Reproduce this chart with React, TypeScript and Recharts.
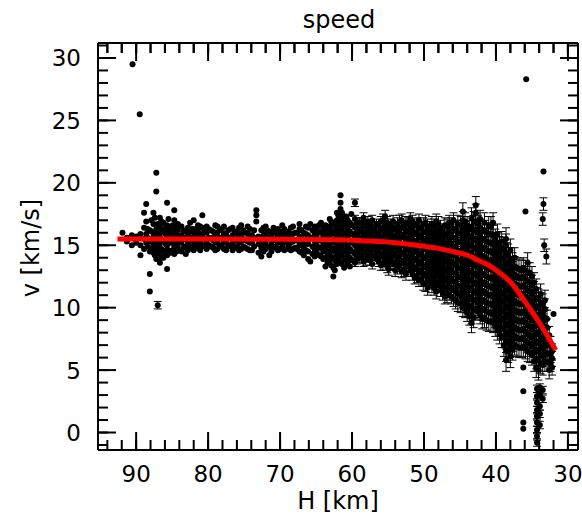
import { ComposedChart, Scatter, Line, XAxis, YAxis, ErrorBar } from 'recharts'

const FONT = '"DejaVu Sans", sans-serif'

// axis ticks: labelled majors, unlabelled minors
const xMajor = [30, 40, 50, 60, 70, 80, 90]
const xMinor = [30, 32, 34, 36, 38, 40, 42, 44, 46, 48, 50, 52, 54, 56, 58, 60, 62, 64, 66, 68, 70, 72, 74, 76, 78, 80, 82, 84, 86, 88, 90, 92, 94]
const yMajor = [0, 5, 10, 15, 20, 25, 30]
const yMinor = [-1, 0, 1, 2, 3, 4, 5, 6, 7, 8, 9, 10, 11, 12, 13, 14, 15, 16, 17, 18, 19, 20, 21, 22, 23, 24, 25, 26, 27, 28, 29, 30, 31]

// flat part of the track, H [km] -> speeds [km/s] (no error bars)
const bandCols: [number, number[]][] = [
  [91.9, [16.0]],
  [91.3, [15.3, 15.6]],
  [90.6, [15.0, 15.8]],
  [90.0, [15.2, 15.7]],
  [89.4, [14.2, 15.0, 15.9]],
  [88.9, [14.7, 15.5, 16.4, 17.6]],
  [88.6, [15.2, 15.9, 16.9, 18.3]],
  [88.1, [11.3, 12.7, 14.5, 15.3, 16.2]],
  [87.6, [14.4, 15.0, 15.7, 16.7, 17.6]],
  [87.2, [13.9, 14.8, 15.6, 16.3, 19.3, 20.8]],
  [86.7, [13.6, 14.3, 15.1, 15.9, 16.5, 17.2]],
  [86.2, [14.0, 14.6, 15.4, 16.1, 16.8]],
  [85.7, [13.1, 14.2, 15.0, 15.8, 16.6, 18.4]],
  [85.2, [14.4, 15.2, 15.9, 16.5]],
  [84.7, [14.3, 14.9, 15.6, 16.3, 17.0, 17.8]],
  [84.2, [14.8, 15.5, 16.2, 16.7]],
  [83.7, [14.5, 15.2, 15.8, 16.5]],
  [83.1, [14.3, 14.9, 15.6, 16.2]],
  [82.5, [14.9, 15.5, 16.1, 16.8]],
  [82.0, [14.6, 15.3, 16.0, 17.0]],
  [81.4, [14.8, 15.4, 16.1, 16.6]],
  [80.8, [15.0, 15.7, 16.4, 17.4]],
  [80.2, [14.7, 15.3, 16.0, 16.5]],
  [79.6, [14.9, 15.6, 16.2]],
  [79.0, [14.6, 15.2, 15.9, 16.6]],
  [78.4, [15.0, 15.6, 16.3]],
  [77.8, [14.7, 15.3, 15.9, 16.5]],
  [77.2, [14.9, 15.6, 16.2]],
  [76.6, [14.6, 15.2, 15.8, 16.4]],
  [76.0, [14.9, 15.5, 16.1]],
  [75.4, [14.7, 15.3, 15.9, 16.6]],
  [74.8, [14.8, 15.4, 16.0]],
  [74.2, [14.6, 15.2, 15.8, 16.3]],
  [73.6, [14.9, 15.6, 16.2]],
  [73.3, [16.9, 17.4, 17.8]],
  [73.0, [14.4, 15.1, 15.7]],
  [72.6, [14.1, 14.8, 15.5, 16.2]],
  [72.0, [14.7, 15.3, 15.9, 16.5]],
  [71.5, [14.2, 14.9, 15.6, 16.1]],
  [70.9, [14.8, 15.4, 16.0, 16.4]],
  [70.3, [14.6, 15.2, 15.8, 16.3]],
  [69.7, [14.9, 15.5, 16.1, 16.6]],
  [69.1, [14.7, 15.3, 15.9]],
  [68.5, [14.6, 15.2, 15.8, 16.4]],
  [67.9, [14.8, 15.4, 16.0]],
  [67.3, [14.5, 15.1, 15.7, 16.3, 16.7]],
  [66.7, [14.2, 14.8, 15.4, 16.0]],
  [66.1, [13.9, 14.5, 15.1, 15.8, 16.4]],
  [65.8, [13.7, 16.7]],
  [65.5, [14.3, 14.9, 15.6, 16.2]],
  [64.9, [14.4, 15.0, 15.6, 16.3]],
  [64.3, [14.1, 14.8, 15.4, 16.1, 16.8]],
  [63.7, [13.3, 14.0, 14.7, 15.3, 16.0, 16.6]],
  [63.1, [13.8, 14.5, 15.2, 15.9, 16.5, 17.1]],
  [62.6, [12.5, 13.2, 14.0, 14.7, 15.4, 16.1, 16.8]],
  [62.1, [13.5, 14.2, 14.9, 15.6, 16.3, 17.0, 17.6]],
  [61.6, [13.6, 14.3, 15.0, 15.7, 16.4, 17.1, 17.9, 18.4, 19.0]],
  [61.1, [13.2, 13.9, 14.6, 15.3, 16.0, 16.7, 17.3]],
  [60.6, [13.5, 14.2, 14.9, 15.6, 16.3, 17.0]],
  [60.1, [13.8, 14.5, 15.2, 15.9, 16.6, 17.5]],
  // in-between columns
  [88.4, [14.9, 15.6, 16.3]],
  [87.9, [14.7, 15.4, 16.1, 17.0]],
  [87.4, [14.2, 15.2, 16.0, 17.2]],
  [87.0, [14.5, 15.3, 16.0, 16.7]],
  [86.5, [14.0, 14.7, 15.5, 16.2, 16.9]],
  [85.9, [14.3, 15.1, 15.9, 16.4]],
  [85.5, [14.6, 15.4, 16.2, 17.1]],
  [84.9, [14.6, 15.3, 16.0, 16.6]],
  [84.4, [14.5, 15.1, 15.8, 16.4]],
  [83.4, [14.8, 15.5, 16.1]],
  [82.8, [14.6, 15.2, 15.8, 16.4]],
  [82.2, [14.9, 15.6, 16.3]],
  [81.7, [15.1, 15.7, 16.3]],
  [81.1, [14.6, 15.2, 15.9, 16.5]],
  [80.5, [14.9, 15.5, 16.1]],
  [79.9, [15.0, 15.6, 16.3]],
  [79.3, [14.8, 15.4, 16.1]],
  [78.7, [14.7, 15.3, 16.0, 16.5]],
  [78.1, [14.9, 15.6, 16.2]],
  [77.5, [14.6, 15.2, 15.9]],
  [76.9, [15.0, 15.6, 16.3]],
  [76.3, [14.8, 15.4, 16.0]],
  [75.7, [14.6, 15.2, 15.8, 16.4]],
  [75.1, [14.9, 15.5, 16.2]],
  [74.5, [14.7, 15.3, 15.9, 16.5]],
  [73.9, [14.6, 15.2, 15.8]],
  [72.3, [14.5, 15.1, 15.8, 16.4]],
  [71.8, [14.9, 15.5, 16.2]],
  [71.2, [14.5, 15.1, 15.7]],
  [70.6, [14.9, 15.5, 16.2]],
  [70.0, [14.7, 15.3, 15.9]],
  [69.4, [14.6, 15.2, 15.8, 16.3]],
  [68.8, [14.9, 15.5, 16.1]],
  [68.2, [14.7, 15.3, 15.9, 16.5]],
  [67.6, [14.7, 15.4, 16.0]],
  [67.0, [14.4, 15.0, 15.6, 16.2]],
  [66.4, [14.6, 15.2, 15.9, 16.5]],
  [65.2, [14.1, 14.7, 15.3, 15.9, 16.5]],
  [64.6, [14.2, 14.8, 15.4, 16.0, 16.6]],
  [64.0, [13.9, 14.5, 15.1, 15.7, 16.4]],
  [63.4, [13.6, 14.3, 15.0, 15.6, 16.3]],
  [62.9, [13.4, 14.1, 14.8, 15.5, 16.2, 16.9]],
  [62.4, [13.0, 13.8, 14.5, 15.2, 15.9, 16.6]],
  [61.9, [13.9, 14.6, 15.3, 16.0, 16.7, 17.4]],
  [61.4, [13.5, 14.2, 14.9, 15.6, 16.3, 17.0, 17.6]],
  [60.8, [13.8, 14.5, 15.2, 15.9, 16.6, 17.3]],
  [60.3, [13.3, 14.0, 14.7, 15.4, 16.1, 16.8]],
]

// deceleration part: H [km], error [km/s], speeds [km/s]
const declineCols: [number, number, number[]][] = [
  [59.6, 0.3, [13.6, 14.3, 15.0, 15.7, 16.4, 17.1, 18.4]],
  [59.0, 0.4, [14.0, 14.7, 15.4, 16.1, 16.8]],
  [58.4, 0.4, [13.7, 14.4, 15.1, 15.8, 16.5, 17.2]],
  [57.8, 0.4, [14.1, 14.8, 15.5, 16.2, 16.9]],
  [57.2, 0.4, [13.5, 14.2, 14.9, 15.6, 16.3, 17.0]],
  [56.6, 0.4, [13.9, 14.6, 15.3, 16.0, 16.7]],
  [56.0, 0.4, [13.4, 14.1, 14.8, 15.5, 16.2, 16.9]],
  [55.4, 0.5, [13.8, 14.5, 15.2, 15.9, 16.6, 17.3]],
  [54.9, 0.5, [13.1, 13.6, 14.3, 15.0, 15.7, 16.4]],
  [54.3, 0.5, [13.5, 14.2, 14.9, 15.6, 16.3, 16.9]],
  [53.7, 0.5, [13.2, 13.9, 14.6, 15.3, 16.0, 16.7]],
  [53.1, 0.5, [12.9, 13.6, 14.3, 15.0, 15.7, 16.4, 17.0]],
  [52.5, 0.5, [12.7, 13.4, 14.1, 14.8, 15.5, 16.2, 16.8]],
  [51.9, 0.5, [13.0, 13.7, 14.4, 15.1, 15.8, 16.5, 17.1]],
  [51.3, 0.5, [12.4, 13.1, 13.8, 14.5, 15.2, 15.9, 16.6]],
  [50.7, 0.5, [12.2, 12.9, 13.6, 14.3, 15.0, 15.7, 16.4, 17.0]],
  [50.1, 0.5, [11.9, 12.6, 13.3, 14.0, 14.7, 15.4, 16.1, 16.7]],
  [49.5, 0.6, [11.6, 12.3, 13.0, 13.7, 14.4, 15.1, 15.8, 16.5]],
  [48.9, 0.6, [11.8, 12.5, 13.2, 13.9, 14.6, 15.3, 16.0, 16.7]],
  [48.3, 0.6, [11.3, 12.0, 12.7, 13.4, 14.1, 14.8, 15.5, 16.2, 16.9]],
  [47.7, 0.6, [11.5, 12.2, 12.9, 13.6, 14.3, 15.0, 15.7, 16.4]],
  [47.1, 0.6, [10.9, 11.6, 12.3, 13.0, 13.7, 14.4, 15.1, 15.8, 16.6]],
  [46.5, 0.6, [11.2, 11.9, 12.6, 13.3, 14.0, 14.7, 15.4, 16.1, 16.8]],
  [45.9, 0.6, [10.7, 11.4, 12.1, 12.8, 13.5, 14.2, 14.9, 15.6, 16.3, 17.0]],
  [45.3, 0.7, [10.4, 11.1, 11.8, 12.5, 13.2, 13.9, 14.6, 15.3, 16.0, 16.7]],
  [44.6, 0.7, [10.0, 10.7, 11.4, 12.1, 12.8, 13.5, 14.2, 14.9, 15.6, 16.3, 17.0, 17.7]],
  [44.0, 0.7, [9.6, 10.3, 11.0, 11.7, 12.4, 13.1, 13.8, 14.5, 15.2, 15.9, 16.6]],
  [43.4, 0.8, [8.8, 9.5, 10.2, 10.9, 11.6, 12.3, 13.0, 13.7, 14.4, 15.1, 15.8, 16.5, 17.2]],
  [42.8, 0.7, [9.9, 10.6, 11.3, 12.0, 12.7, 13.4, 14.1, 14.8, 15.5, 16.2, 16.9, 17.6, 18.2]],
  [42.2, 0.7, [9.4, 10.1, 10.8, 11.5, 12.2, 12.9, 13.6, 14.3, 15.0, 15.7, 16.4, 17.1]],
  [41.6, 0.8, [9.2, 9.9, 10.6, 11.3, 12.0, 12.7, 13.4, 14.1, 14.8, 15.5, 16.2, 16.8]],
  [41.0, 0.8, [8.9, 9.6, 10.3, 11.0, 11.7, 12.4, 13.1, 13.8, 14.5, 15.2, 15.9, 16.5]],
  [40.4, 0.8, [8.8, 9.5, 10.2, 10.9, 11.6, 12.3, 13.0, 13.7, 14.4, 15.1, 15.8, 16.8]],
  [39.8, 0.8, [8.2, 8.9, 9.6, 10.3, 11.0, 11.7, 12.4, 13.1, 13.8, 14.5, 15.2, 15.9]],
  [39.2, 0.8, [7.6, 8.3, 9.0, 9.7, 10.4, 11.1, 11.8, 12.5, 13.2, 13.9, 14.6, 15.3]],
  [38.6, 0.9, [5.8, 6.6, 7.3, 8.0, 8.7, 9.4, 10.1, 10.8, 11.5, 12.2, 12.9, 13.6, 14.3, 15.0, 15.5]],
  [38.0, 0.9, [6.1, 6.9, 7.6, 8.3, 9.0, 9.7, 10.4, 11.1, 11.8, 12.5, 13.2, 13.9, 14.6]],
  [37.4, 0.8, [7.0, 7.7, 8.4, 9.1, 9.8, 10.5, 11.2, 11.9, 12.6, 13.3, 14.0]],
  [36.8, 0.8, [6.8, 7.5, 8.2, 8.9, 9.6, 10.3, 11.0, 11.7, 12.4, 13.1]],
  [36.2, 0.8, [6.9, 7.6, 8.3, 9.0, 9.7, 10.4, 11.1, 11.8, 12.5, 13.2]],
  [35.6, 0.8, [6.5, 7.2, 7.9, 8.6, 9.3, 10.0, 10.7, 11.4, 12.1, 12.8, 13.6]],
  [35.0, 0.8, [6.2, 6.9, 7.6, 8.3, 9.0, 9.7, 10.4, 11.1, 11.8, 12.5]],
  [34.4, 0.8, [5.2, 5.9, 6.6, 7.3, 8.0, 8.7, 9.4, 10.1, 10.8, 11.5]],
  [33.8, 0.8, [5.5, 6.2, 6.9, 7.6, 8.3, 9.0, 9.7, 10.4, 11.1]],
  [33.2, 0.8, [5.7, 6.4, 7.1, 7.8, 8.5, 9.2, 9.9, 10.6]],
  [32.6, 0.7, [5.0, 5.6, 6.3, 7.0, 7.8]],
  [32.2, 0.6, [5.2, 5.9, 6.5]],
  // in-between columns
  [59.3, 0.4, [13.9, 14.6, 15.3, 16.0, 16.7]],
  [58.7, 0.4, [14.0, 14.7, 15.4, 16.1, 16.8]],
  [58.1, 0.4, [13.8, 14.5, 15.2, 15.9, 16.6]],
  [57.5, 0.4, [13.8, 14.5, 15.2, 15.9, 16.6]],
  [56.9, 0.4, [14.2, 14.9, 15.6, 16.3]],
  [56.3, 0.4, [13.7, 14.4, 15.1, 15.8, 16.5]],
  [55.7, 0.5, [13.5, 14.2, 14.9, 15.6, 16.3, 17.0]],
  [55.1, 0.5, [13.3, 14.0, 14.7, 15.4, 16.1, 16.8]],
  [54.6, 0.5, [13.8, 14.5, 15.2, 15.9, 16.6]],
  [54.0, 0.5, [13.0, 13.6, 14.3, 15.0, 15.7, 16.4]],
  [53.4, 0.5, [13.4, 14.1, 14.8, 15.5, 16.2, 16.9]],
  [52.8, 0.5, [13.0, 13.7, 14.4, 15.1, 15.8, 16.5]],
  [52.2, 0.5, [13.3, 14.0, 14.7, 15.4, 16.1, 16.7]],
  [51.6, 0.5, [12.7, 13.4, 14.1, 14.8, 15.5, 16.2, 16.9]],
  [51.0, 0.5, [12.5, 13.2, 13.9, 14.6, 15.3, 16.0, 16.7]],
  [50.4, 0.5, [12.2, 12.9, 13.6, 14.3, 15.0, 15.7, 16.4]],
  [49.8, 0.6, [11.9, 12.6, 13.3, 14.0, 14.7, 15.4, 16.1, 16.8]],
  [49.2, 0.6, [12.1, 12.8, 13.5, 14.2, 14.9, 15.6, 16.3]],
  [48.6, 0.6, [11.6, 12.3, 13.0, 13.7, 14.4, 15.1, 15.8, 16.5]],
  [48.0, 0.6, [11.8, 12.5, 13.2, 13.9, 14.6, 15.3, 16.0, 16.7]],
  [47.4, 0.6, [11.2, 11.9, 12.6, 13.3, 14.0, 14.7, 15.4, 16.1]],
  [46.8, 0.6, [11.0, 11.6, 12.3, 13.0, 13.7, 14.4, 15.1, 15.8, 16.5]],
  [46.2, 0.6, [10.9, 11.6, 12.3, 13.0, 13.7, 14.4, 15.1, 15.8, 16.6]],
  [45.6, 0.7, [10.6, 11.4, 12.1, 12.8, 13.5, 14.2, 14.9, 15.6, 16.3]],
  [44.9, 0.7, [10.3, 11.0, 11.7, 12.4, 13.1, 13.8, 14.5, 15.2, 15.9, 16.6]],
  [44.3, 0.7, [9.9, 10.6, 11.3, 12.0, 12.7, 13.4, 14.1, 14.8, 15.5, 16.2, 16.9]],
  [43.7, 0.7, [9.3, 10.0, 10.7, 11.4, 12.1, 12.8, 13.5, 14.2, 14.9, 15.6, 16.3]],
  [43.1, 0.8, [9.2, 9.9, 10.6, 11.3, 12.0, 12.7, 13.4, 14.1, 14.8, 15.5, 16.2, 16.9]],
  [42.5, 0.7, [9.7, 10.4, 11.1, 11.8, 12.5, 13.2, 13.9, 14.6, 15.3, 16.0, 16.7]],
  [41.9, 0.8, [9.1, 9.8, 10.5, 11.2, 11.9, 12.6, 13.3, 14.0, 14.7, 15.4, 16.1]],
  [41.3, 0.8, [9.0, 9.7, 10.4, 11.1, 11.8, 12.5, 13.2, 13.9, 14.6, 15.3, 16.0]],
  [40.7, 0.8, [8.9, 9.6, 10.3, 11.0, 11.7, 12.4, 13.1, 13.8, 14.5, 15.2, 15.9, 16.5]],
  [40.1, 0.8, [8.5, 9.2, 9.9, 10.6, 11.3, 12.0, 12.7, 13.4, 14.1, 14.8, 15.5]],
  [39.5, 0.8, [7.9, 8.6, 9.3, 10.0, 10.7, 11.4, 12.1, 12.8, 13.5, 14.2, 14.9]],
  [38.9, 0.9, [7.0, 7.7, 8.4, 9.1, 9.8, 10.5, 11.2, 11.9, 12.6, 13.3, 14.0, 14.7]],
  [38.3, 0.9, [6.5, 7.2, 7.9, 8.6, 9.3, 10.0, 10.7, 11.4, 12.1, 12.8, 13.5, 14.2]],
  [37.7, 0.8, [6.6, 7.3, 8.0, 8.7, 9.4, 10.1, 10.8, 11.5, 12.2, 12.9, 13.6]],
  [37.1, 0.8, [6.9, 7.6, 8.3, 9.0, 9.7, 10.4, 11.1, 11.8, 12.5, 13.2]],
  [36.5, 0.8, [6.8, 7.5, 8.2, 8.9, 9.6, 10.3, 11.0, 11.7, 12.4, 13.0]],
  [35.9, 0.8, [6.7, 7.4, 8.1, 8.8, 9.5, 10.2, 10.9, 11.6, 12.3, 13.0]],
  [35.3, 0.8, [6.4, 7.1, 7.8, 8.5, 9.2, 9.9, 10.6, 11.3, 12.0, 12.8]],
  [34.7, 0.8, [5.7, 6.4, 7.1, 7.8, 8.5, 9.2, 9.9, 10.6, 11.3, 12.0]],
  [34.1, 0.8, [5.0, 5.8, 6.5, 7.2, 7.9, 8.6, 9.3, 10.0, 10.7]],
  [33.5, 0.8, [5.4, 6.1, 6.8, 7.5, 8.2, 8.9, 9.6, 10.3]],
  [32.9, 0.7, [5.6, 6.3, 7.0, 7.7, 8.4, 9.1]],
  [32.4, 0.6, [5.5, 6.2, 7.1]],
  // low-speed column near the end of the track
  [34.3, 0.3, [-0.8, -0.3, 0.2, 0.8, 1.3, 1.8, 2.4, 2.9, 3.5]],
  [33.9, 0.3, [0.6, 1.5, 2.1, 3.0, 3.6]],
  [33.5, 0.3, [2.7, 3.4]],
]

// isolated points
const outlierH = [90.5, 89.5, 35.8, 33.4, 35.9, 32.0, 36.2, 36.2, 36.2, 36.2]
const outlierV = [29.5, 25.5, 28.3, 20.9, 17.7, 9.5, 5.2, 3.3, 0.8, 0.3]
// isolated points with error bars
const outlierErrH = [33.4, 33.5, 33.3, 33.0, 87.0]
const outlierErrV = [18.3, 17.1, 15.0, 14.1, 10.2]
const outlierErrE = [0.5, 0.5, 0.5, 0.6, 0.3]

// red fit curve
const fitH = [92.6, 80, 70, 62, 58, 54, 51, 48, 45.3, 43.9, 42.5, 41, 39.75, 37.9, 36.1, 34.2, 32.8, 31.7]
const fitV = [15.5, 15.5, 15.48, 15.45, 15.35, 15.2, 15.0, 14.75, 14.4, 14.2, 13.8, 13.4, 12.9, 12.0, 10.6, 9.0, 7.7, 6.6]

const X_DOMAIN: [number, number] = [28.6, 95.3]
const Y_DOMAIN: [number, number] = [-1.4, 31.2]
const MARGIN = { top: 42, right: 3, bottom: 0, left: 0 }

const bandPoints = [
  ...bandCols.flatMap(([h, vs]) => vs.map(v => ({ h, v }))),
  ...outlierH.map((h, i) => ({ h, v: outlierV[i] })),
]
const errPoints = [
  ...declineCols.flatMap(([h, err, vs]) => vs.map(v => ({ h, v, err }))),
  ...outlierErrH.map((h, i) => ({ h, v: outlierErrV[i], err: outlierErrE[i] })),
]
const fitData = fitH.map((h, i) => ({ h, v: fitV[i] }))

// inward tick marks, placed on the frame through the chart scales
const bottomMajor = xMajor.map(h => ({ h, v: Y_DOMAIN[0] }))
const bottomMinor = xMinor.map(h => ({ h, v: Y_DOMAIN[0] }))
const topMajor = xMajor.map(h => ({ h, v: Y_DOMAIN[1] }))
const topMinor = xMinor.map(h => ({ h, v: Y_DOMAIN[1] }))
const leftMajor = yMajor.map(v => ({ v, h: X_DOMAIN[1] }))
const leftMinor = yMinor.map(v => ({ v, h: X_DOMAIN[1] }))
const rightMajor = yMajor.map(v => ({ v, h: X_DOMAIN[0] }))
const rightMinor = yMinor.map(v => ({ v, h: X_DOMAIN[0] }))

const tickShape = (dx: number, dy: number) => (p: any) => (
  <line x1={p.cx} y1={p.cy} x2={p.cx + dx} y2={p.cy + dy} stroke="#000" strokeWidth={2} />
)

const Dot = (p: any) => <circle cx={p.cx} cy={p.cy} r={3} fill="#000" />

const BottomLabel = ({ x, y, payload }: any) => (
  <text x={x} y={y + 32} textAnchor="middle" fontSize={23} fontFamily={FONT} fill="#000">{payload.value}</text>
)
const LeftLabel = ({ x, y, payload }: any) => (
  <text x={x - 17} y={y + 8.5} textAnchor="end" fontSize={23} fontFamily={FONT} fill="#000">{payload.value}</text>
)

function Axes({ visible }: { visible: boolean }) {
  const line = visible ? { stroke: '#000', strokeWidth: 2 } : false
  return [
    <XAxis key="b" xAxisId="b" type="number" dataKey="h" domain={X_DOMAIN} reversed allowDataOverflow
      ticks={xMajor} interval={0} tickSize={0} tickMargin={0} tickLine={false}
      tick={visible ? <BottomLabel /> : false} axisLine={line} stroke="#000" height={66} />,
    <XAxis key="t" xAxisId="t" orientation="top" type="number" dataKey="h" domain={X_DOMAIN} reversed allowDataOverflow
      ticks={xMajor} interval={0} tickSize={0} tickLine={false} tick={false} axisLine={line} stroke="#000" height={1} />,
    <YAxis key="l" yAxisId="l" type="number" dataKey="v" domain={Y_DOMAIN} allowDataOverflow
      ticks={yMajor} interval={0} tickSize={0} tickMargin={0} tickLine={false}
      tick={visible ? <LeftLabel /> : false} axisLine={line} stroke="#000" width={98} />,
    <YAxis key="r" yAxisId="r" orientation="right" type="number" dataKey="v" domain={Y_DOMAIN} allowDataOverflow
      ticks={yMajor} interval={0} tickSize={0} tickLine={false} tick={false} axisLine={line} stroke="#000" width={1} />,
  ]
}

export default function App() {
  return (
    <div style={{ position: 'absolute', left: 0, top: 0, width: 582, height: 516, background: '#fff' }}>
      {/* frame, tick labels and data */}
      <div style={{ position: 'absolute', left: 0, top: 0 }}>
        <ComposedChart width={582} height={516} margin={MARGIN}>
          {Axes({ visible: true })}
          <Scatter xAxisId="b" yAxisId="l" data={bandPoints} dataKey="v" shape={Dot} isAnimationActive={false} />
          <Scatter xAxisId="b" yAxisId="l" data={errPoints} dataKey="v" shape={Dot} isAnimationActive={false}>
            <ErrorBar dataKey="err" direction="y" width={4} stroke="#000" strokeWidth={1} />
          </Scatter>
          <Scatter xAxisId="t" yAxisId="r" data={topMinor} dataKey="v" shape={tickShape(0, 10)} isAnimationActive={false} />
        </ComposedChart>
      </div>
      {/* fit curve and tick marks on top */}
      <div style={{ position: 'absolute', left: 0, top: 0 }}>
        <ComposedChart width={582} height={516} margin={MARGIN}>
          {Axes({ visible: false })}
          <Line xAxisId="b" yAxisId="l" data={fitData} dataKey="v" type="monotone" stroke="#ff0000"
            strokeWidth={5} dot={false} activeDot={false} isAnimationActive={false} />
          <Scatter xAxisId="b" yAxisId="l" data={bottomMinor} dataKey="v" shape={tickShape(0, -10)} isAnimationActive={false} />
          <Scatter xAxisId="b" yAxisId="l" data={bottomMajor} dataKey="v" shape={tickShape(0, -18)} isAnimationActive={false} />
          <Scatter xAxisId="b" yAxisId="l" data={leftMinor} dataKey="v" shape={tickShape(10, 0)} isAnimationActive={false} />
          <Scatter xAxisId="b" yAxisId="l" data={leftMajor} dataKey="v" shape={tickShape(18, 0)} isAnimationActive={false} />
          <Scatter xAxisId="t" yAxisId="r" data={topMinor} dataKey="v" shape={tickShape(0, 10)} isAnimationActive={false} />
          <Scatter xAxisId="t" yAxisId="r" data={topMajor} dataKey="v" shape={tickShape(0, 18)} isAnimationActive={false} />
          <Scatter xAxisId="t" yAxisId="r" data={rightMinor} dataKey="v" shape={tickShape(-10, 0)} isAnimationActive={false} />
          <Scatter xAxisId="t" yAxisId="r" data={rightMajor} dataKey="v" shape={tickShape(-18, 0)} isAnimationActive={false} />
        </ComposedChart>
      </div>
      <svg width={582} height={516} style={{ position: 'absolute', left: 0, top: 0, pointerEvents: 'none' }}>
        <text x={339} y={28} textAnchor="middle" fontSize={24} fontFamily={FONT} fill="#000">speed</text>
        <text x={338} y={509} textAnchor="middle" fontSize={24} fontFamily={FONT} fill="#000">H [km]</text>
        <text x={39} y={248} textAnchor="middle" fontSize={24} fontFamily={FONT} fill="#000"
          transform="rotate(-90 39 248)">v [km/s]</text>
      </svg>
    </div>
  )
}
